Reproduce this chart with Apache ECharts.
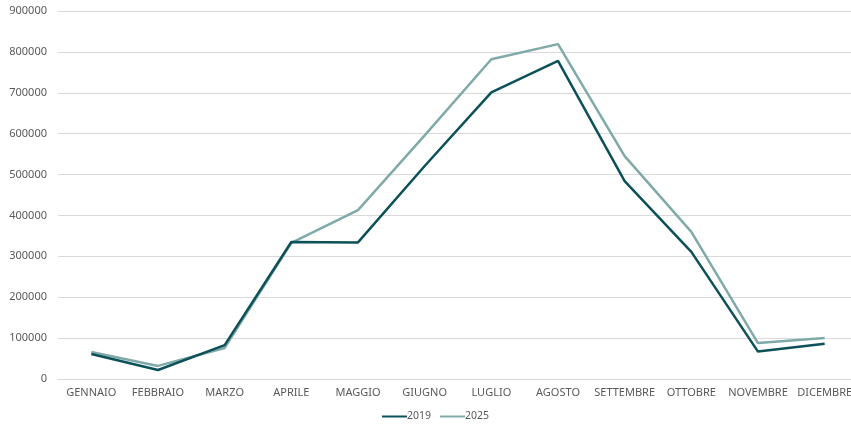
<!DOCTYPE html>
<html>
<head>
<meta charset="utf-8">
<script src="https://cdn.jsdelivr.net/npm/echarts@6/dist/echarts.min.js"></script>
<style>
  html, body { margin: 0; padding: 0; background: #fff; }
  #chart { width: 851px; height: 425px; }
</style>
</head>
<body>
<div id="chart"></div>
<script>
  // mesi
  const mesi = ['GENNAIO', 'FEBBRAIO', 'MARZO', 'APRILE', 'MAGGIO', 'GIUGNO',
    'LUGLIO', 'AGOSTO', 'SETTEMBRE', 'OTTOBRE', 'NOVEMBRE', 'DICEMBRE']
  const anni = ['2019', '2025']
  const valori2019 = [61000, 22000, 83000, 335000, 334000, 521000, 701000, 778000, 484000, 311000, 67000, 86000]
  const valori2025 = [66000, 32000, 76000, 333000, 413000, 596000, 782000, 819000, 545000, 360000, 88000, 100000]
  const colori = ['#0c5159', '#7faaa8']

  const chart = echarts.init(document.getElementById('chart'))
  const font = 'Noto Sans'
  const option = {
    color: colori,
    animation: false,
    textStyle: {fontFamily: font},
    grid: {left: 58, top: 11, right: -7, bottom: 46, outerBoundsMode: 'none'},
    legend: {
      data: anni,
      top: 406,
      left: 377,
      icon: 'rect',
      itemWidth: 25,
      itemHeight: 2,
      itemGap: 9,
      textStyle: {color: '#595959', fontSize: 10.5, fontFamily: font, padding: [0, 0, 0, -5]}
    },
    xAxis: {
      type: 'category',
      data: mesi,
      axisLine: {lineStyle: {color: '#d9d9d9'}},
      axisTick: {show: false},
      axisLabel: {color: '#595959', fontSize: 11, margin: 8, interval: 0}
    },
    yAxis: {
      type: 'value',
      min: 0,
      max: 900000,
      interval: 100000,
      axisLine: {show: false},
      axisTick: {show: false},
      splitLine: {lineStyle: {color: '#d9d9d9'}},
      axisLabel: {color: '#595959', fontSize: 11, margin: 11, formatter: v => String(v)}
    },
    series: [
      {name: anni[0], type: 'line', data: valori2019, symbol: 'none', lineStyle: {width: 2.5}, z: 3},
      {name: anni[1], type: 'line', data: valori2025, symbol: 'none', lineStyle: {width: 2.5}, z: 2}
    ]
  }
  chart.setOption(option)
</script>
</body>
</html>
